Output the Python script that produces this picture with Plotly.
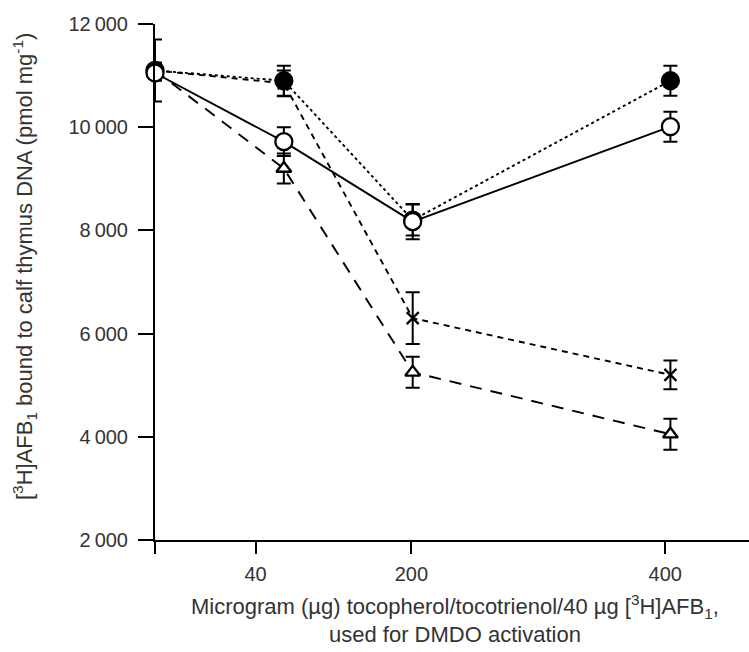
import plotly.graph_objects as go

# x positions of the four dose groups on the plot's axis (0, 40, 200, 400 ug)
dose_pos = [0, 100, 200, 400]
xtick_vals = [0, 78, 199, 396]
xtick_text = ["", "40", "200", "400"]

ytick_vals = [2000, 4000, 6000, 8000, 10000, 12000]
ytick_text = ["2\u2009000", "4\u2009000", "6\u2009000", "8\u2009000", "10\u2009000", "12\u2009000"]

filled_y = [11100, 10900, 8200, 10900]
filled_err = [600, 290, 300, 290]

open_y = [11050, 9720, 8170, 10010]
open_err = [150, 280, 340, 290]

cross_y = [11100, 10850, 6300, 5200]
cross_err = [150, 250, 500, 280]

tri_y = [11100, 9200, 5250, 4050]
tri_err = [150, 290, 300, 300]

fig = go.Figure()

def add(y, err, symbol, dash, fill, size):
    fig.add_trace(go.Scatter(
        x=dose_pos, y=y, mode="lines+markers",
        line=dict(color="black", width=1.9, dash=dash),
        marker=dict(symbol=symbol, size=size, color=fill,
                    line=dict(color="black", width=2.3)),
        error_y=dict(type="data", array=err, visible=True,
                     color="black", thickness=2, width=7),
        cliponaxis=False, showlegend=False))

add(tri_y, tri_err, "triangle-up", "12px,9px", "white", 13)
add(cross_y, cross_err, "x-thin", "6px,5px", "black", 12)
add(filled_y, filled_err, "circle", "dot", "black", 17)
add(open_y, open_err, "circle", "solid", "white", 17)

FONT = "Liberation Sans, Arial, sans-serif"

fig.update_layout(
    width=749, height=652,
    margin=dict(l=155, r=0, t=24, b=112),
    plot_bgcolor="white", paper_bgcolor="white",
    font=dict(family=FONT, color="#333333", size=20),
    xaxis=dict(range=[0, 461], showgrid=False, zeroline=False,
               showline=True, linecolor="black", linewidth=2,
               ticks="outside", ticklen=12, tickwidth=2, tickcolor="black",
               tickvals=xtick_vals, ticktext=xtick_text,
               ticklabelstandoff=3, tickfont=dict(size=20)),
    yaxis=dict(range=[2000, 12000], showgrid=False, zeroline=False,
               showline=True, linecolor="black", linewidth=2,
               ticks="outside", ticklen=15, tickwidth=2, tickcolor="black",
               tickvals=ytick_vals, ticktext=ytick_text,
               ticklabelstandoff=6, tickfont=dict(size=20)),
    annotations=[
        dict(text="[<sup>3</sup>H]AFB<sub>1</sub> bound to calf thymus DNA (pmol mg<sup>-1</sup>)",
             xref="paper", yref="paper", x=-0.2205, y=0.529, textangle=-90,
             showarrow=False, font=dict(size=22), xanchor="center", yanchor="middle"),
        dict(text="Microgram (\u00b5g) tocopherol/tocotrienol/40 \u00b5g [<sup>3</sup>H]AFB<sub>1</sub>,",
             xref="paper", yref="paper", x=0.505, y=0, yshift=-66,
             showarrow=False, font=dict(size=22), xanchor="center", yanchor="middle"),
        dict(text="used for DMDO activation",
             xref="paper", yref="paper", x=0.505, y=0, yshift=-94,
             showarrow=False, font=dict(size=22), xanchor="center", yanchor="middle"),
    ],
)

fig.write_html("out.html")
